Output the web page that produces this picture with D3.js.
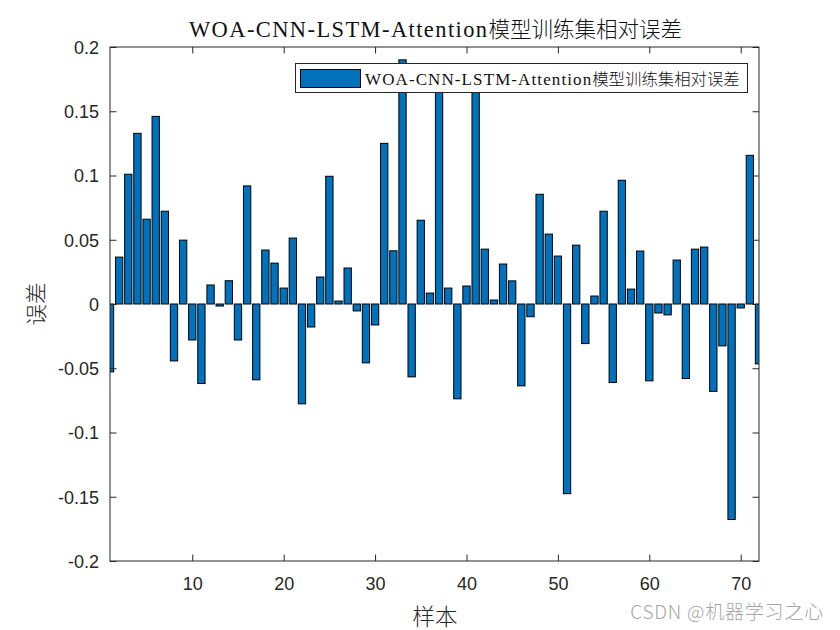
<!DOCTYPE html>
<html><head><meta charset="utf-8">
<script src="https://cdn.jsdelivr.net/npm/d3@7"></script>
<style>body{margin:0;background:#fff}</style>
</head><body>
<script>
const titleLatin = "WOA-CNN-LSTM-Attention";
const titleCJK = "模型训练集相对误差";
const legendLatin = "WOA-CNN-LSTM-Attention";
const legendCJK = "模型训练集相对误差";
const xLabel = "样本";
const yLabel = "误差";
const samples = d3.range(1, 73);
const errors = [
 -0.0528, 0.0365, 0.101, 0.1328, 0.066, 0.146, 0.0722, -0.0443, 0.0497, -0.028,
 -0.0619, 0.0148, -0.0016, 0.0181, -0.028, 0.0919, -0.059, 0.042, 0.0318, 0.0124,
 0.0513, -0.0777, -0.0179, 0.021, 0.0994, 0.0023, 0.028, -0.0054, -0.0458, -0.0163,
 0.125, 0.0414, 0.190, -0.0567, 0.0652, 0.0085, 0.18, 0.0124, -0.0738, 0.014,
 0.175, 0.0427, 0.0031, 0.0311, 0.018, -0.0637, -0.0099, 0.0854, 0.0544, 0.0373,
 -0.1476, 0.0458, -0.0308, 0.0062, 0.0722, -0.0611, 0.0963, 0.0116, 0.0412, -0.0598,
 -0.007, -0.0085, 0.0342, -0.058, 0.0427, 0.0443, -0.068, -0.0326, -0.1677, -0.0031,
 0.1157, -0.0466
];
const xTicks = [10, 20, 30, 40, 50, 60, 70];
const yTicks = [-0.2, -0.15, -0.1, -0.05, 0, 0.05, 0.1, 0.15, 0.2];

const W = 840, H = 630;
const L = 110, R = 759, T = 47, B = 561;
const svg = d3.select("body").append("svg").attr("width", W).attr("height", H)
  .style("font-family", "'Liberation Sans', Arial, sans-serif");

const x = d3.scaleLinear().domain([1, 72]).range([L, R]);
const y = d3.scaleLinear().domain([-0.2, 0.2]).range([B, T]);
const bw = (x(2) - x(1)) * 0.8;

svg.append("defs").append("clipPath").attr("id", "clip")
  .append("rect").attr("x", L).attr("y", T).attr("width", R - L).attr("height", B - T);

svg.append("rect").attr("x", L).attr("y", T).attr("width", R - L).attr("height", B - T).attr("fill", "#fff");

svg.append("g").attr("clip-path", "url(#clip)").selectAll("rect").data(samples).join("rect")
  .attr("x", d => x(d) - bw / 2)
  .attr("y", (d, i) => y(Math.max(0, errors[i])))
  .attr("width", bw)
  .attr("height", (d, i) => Math.abs(y(errors[i]) - y(0)))
  .attr("fill", "#0072BD").attr("stroke", "#000").attr("stroke-width", 1);

const fmt = d => d === 0 ? "0" : String(+d.toFixed(2));
const tl = 6.5;
const axB = svg.append("g").attr("transform", `translate(0,${B})`)
  .call(d3.axisBottom(x).tickValues(xTicks).tickSize(-tl).tickPadding(16).tickFormat(d3.format("d")));
const axT = svg.append("g").attr("transform", `translate(0,${T})`)
  .call(d3.axisTop(x).tickValues(xTicks).tickSize(-tl).tickFormat(""));
const axL = svg.append("g").attr("transform", `translate(${L},0)`)
  .call(d3.axisLeft(y).tickValues(yTicks).tickSize(-tl).tickPadding(11).tickFormat(fmt));
const axR = svg.append("g").attr("transform", `translate(${R},0)`)
  .call(d3.axisRight(y).tickValues(yTicks).tickSize(-tl).tickFormat(""));
[axB, axT, axL, axR].forEach(g => {
  g.select(".domain").remove();
  g.selectAll("line").attr("stroke", "#262626");
  g.selectAll("text").attr("fill", "#262626").style("font-size", "18px")
    .style("font-family", "'Liberation Sans', Arial, sans-serif");
});
axL.selectAll("text").attr("dy", "0.35em");
svg.append("rect").attr("x", L).attr("y", T).attr("width", R - L).attr("height", B - T)
  .attr("fill", "none").attr("stroke", "#262626").attr("stroke-width", 1);

// title
const tt = svg.append("text").attr("x", 435.5).attr("y", 37).attr("text-anchor", "middle").attr("fill", "#111");
tt.append("tspan").style("font-family", "'Liberation Serif', serif").style("font-size", "22.5px")
  .style("letter-spacing", "1.4px").text(titleLatin);
tt.append("tspan").style("font-family", "'Noto Sans CJK SC', sans-serif").style("font-size", "21.5px")
  .style("font-weight", "300").text(titleCJK);

// axis labels
svg.append("text").attr("x", 435).attr("y", 625).attr("text-anchor", "middle")
  .style("font-family", "'Noto Sans CJK SC', sans-serif").style("font-size", "22.5px").style("font-weight", "300")
  .attr("fill", "#262626").text(xLabel);
svg.append("text").attr("transform", `translate(44,${(T + B) / 2}) rotate(-90)`).attr("text-anchor", "middle")
  .style("font-family", "'Noto Sans CJK SC', sans-serif").style("font-size", "21.5px").style("font-weight", "300")
  .attr("fill", "#262626").text(yLabel);

// legend
const lg = svg.append("g");
lg.append("rect").attr("x", 295.5).attr("y", 63.5).attr("width", 452).attr("height", 29)
  .attr("fill", "#fff").attr("stroke", "#262626").attr("stroke-width", 1);
lg.append("rect").attr("x", 300.5).attr("y", 69.5).attr("width", 60).attr("height", 18)
  .attr("fill", "#0072BD").attr("stroke", "#000").attr("stroke-width", 1);
const lt = lg.append("text").attr("x", 365).attr("y", 85).attr("fill", "#111");
lt.append("tspan").style("font-family", "'Liberation Serif', serif").style("font-size", "17px")
  .style("letter-spacing", "1.1px").text(legendLatin);
lt.append("tspan").style("font-family", "'Noto Sans CJK SC', sans-serif").style("font-size", "16.4px")
  .style("font-weight", "300").text(legendCJK);

// watermark
svg.append("text").attr("x", 824).attr("y", 619).attr("text-anchor", "end")
  .style("font-family", "'Noto Sans CJK SC', sans-serif").style("font-size", "19px").style("font-weight", "300")
  .style("letter-spacing", "0.8px")
  .attr("fill", "#a6a6a6").text("CSDN @机器学习之心");
</script>
</body></html>
